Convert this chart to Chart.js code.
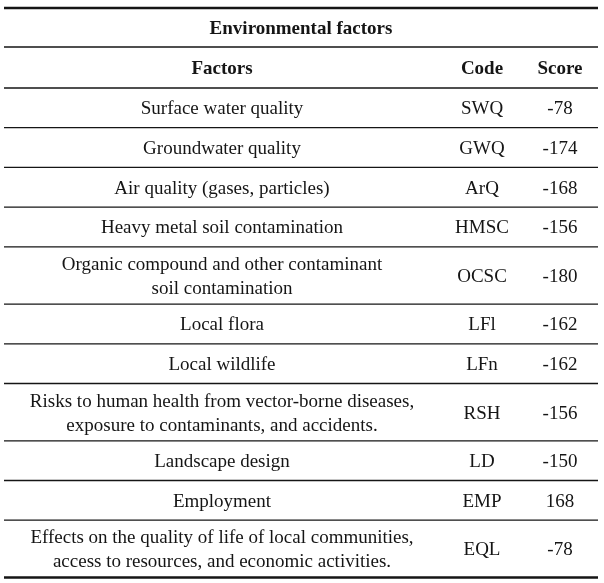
<!DOCTYPE html>
<html>
<head>
<meta charset="utf-8">
<script src="https://cdn.jsdelivr.net/npm/chart.js@4"></script>
<style>
  body { margin: 0; background: #fff; }
  #wrap { width: 604px; height: 583px; }
</style>
</head>
<body>
<div id="wrap"><canvas id="tabela"></canvas></div>
<script>
// Dados da tabela
const title = 'Environmental factors';
const headers = ['Factors', 'Code', 'Score'];
const factors = [
    'Surface water quality',
    'Groundwater quality',
    'Air quality (gases, particles)',
    'Heavy metal soil contamination',
    'Organic compound and other contaminant\nsoil contamination',
    'Local flora',
    'Local wildlife',
    'Risks to human health from vector-borne diseases,\nexposure to contaminants, and accidents.',
    'Landscape design',
    'Employment',
    'Effects on the quality of life of local communities,\naccess to resources, and economic activities.'
];
const codes = ['SWQ', 'GWQ', 'ArQ', 'HMSC', 'OCSC', 'LFl', 'LFn', 'RSH', 'LD', 'EMP', 'EQL'];
const scores = [-78, -174, -168, -156, -180, -162, -162, -156, -150, 168, -78];

// Layout (unidades da escala = pixels do canvas)
const colX = [222, 482, 560];
const left = 4, right = 598;
const topY = 8, titleH = 39, headH = 41;
const rowH1 = 39.7, rowH2 = 57.3;
const font = '"Liberation Serif", "DejaVu Serif", serif';
const fs = 19;
const dy = 1.5; // ajuste vertical do texto

// limites das linhas
const bounds = [topY, topY + titleH, topY + titleH + headH];
factors.forEach(f => {
    const n = f.split('\n').length;
    bounds.push(bounds[bounds.length - 1] + (n > 1 ? rowH2 : rowH1));
});

const tablePlugin = {
    id: 'tablePlugin',
    afterDraw(chart) {
        const { ctx, scales: { x, y } } = chart;
        ctx.save();
        ctx.strokeStyle = '#151515';
        ctx.fillStyle = '#151515';
        ctx.textAlign = 'center';
        ctx.textBaseline = 'middle';

        // linhas horizontais
        bounds.forEach((b, i) => {
            const thick = (i === 0 || i === bounds.length - 1);
            ctx.lineWidth = thick ? 2.6 : 1.3;
            ctx.beginPath();
            ctx.moveTo(x.getPixelForValue(left), y.getPixelForValue(b));
            ctx.lineTo(x.getPixelForValue(right), y.getPixelForValue(b));
            ctx.stroke();
        });

        const mid = (i) => y.getPixelForValue((bounds[i] + bounds[i + 1]) / 2 + dy);

        // títulos
        ctx.font = 'bold ' + fs + 'px ' + font;
        ctx.fillText(title, x.getPixelForValue((left + right) / 2), mid(0));
        headers.forEach((h, j) => ctx.fillText(h, x.getPixelForValue(colX[j]), mid(1)));

        // linhas de dados
        ctx.font = fs + 'px ' + font;
        factors.forEach((f, i) => {
            const yc = mid(i + 2);
            const parts = f.split('\n');
            const lh = 24;
            parts.forEach((p, k) => {
                ctx.fillText(p, x.getPixelForValue(colX[0]), yc + (k - (parts.length - 1) / 2) * lh);
            });
            ctx.fillText(codes[i], x.getPixelForValue(colX[1]), yc);
            ctx.fillText(String(scores[i]), x.getPixelForValue(colX[2]), yc);
        });
        ctx.restore();
    }
};

new Chart(document.getElementById('tabela'), {
    type: 'scatter',
    data: {
        datasets: [{
            data: scores.map((s, i) => ({ x: colX[2], y: (bounds[i + 2] + bounds[i + 3]) / 2 })),
            pointRadius: 0
        }]
    },
    options: {
        responsive: true,
        maintainAspectRatio: false,
        animation: false,
        layout: { padding: 0 },
        plugins: { legend: { display: false }, tooltip: { enabled: false } },
        scales: {
            x: { type: 'linear', min: 0, max: 604, display: false },
            y: { type: 'linear', min: 0, max: 583, reverse: true, display: false }
        }
    },
    plugins: [tablePlugin]
});
</script>
</body>
</html>
